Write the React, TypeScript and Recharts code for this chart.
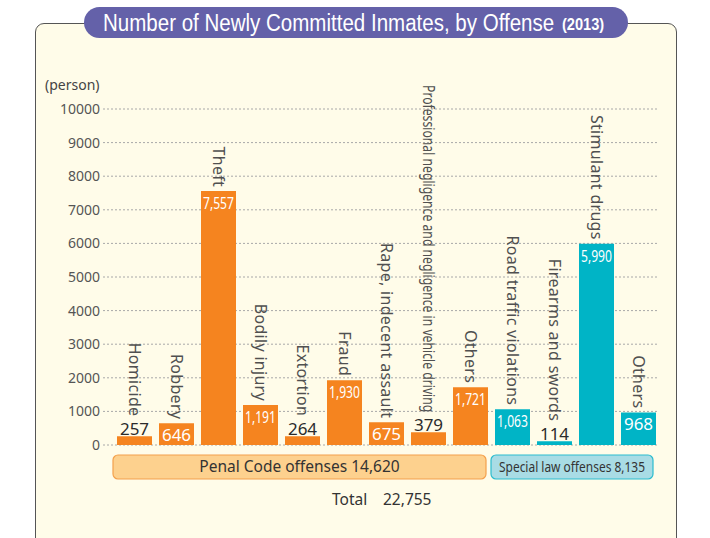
import { Bar, BarChart, CartesianGrid, Cell, LabelList, XAxis, YAxis } from "recharts";

const CATEGORIES = [
  "Homicide",
  "Robbery",
  "Theft",
  "Bodily injury",
  "Extortion",
  "Fraud",
  "Rape, indecent assault",
  "Professional negligence and negligence in vehicle driving",
  "Others",
  "Road traffic violations",
  "Firearms and swords",
  "Stimulant drugs",
  "Others",
];
const VALUES = [257, 646, 7557, 1191, 264, 1930, 675, 379, 1721, 1063, 114, 5990, 968];
const GROUPS = [
  "penal", "penal", "penal", "penal", "penal", "penal", "penal", "penal", "penal",
  "special", "special", "special", "special",
];
const Y_TICKS = [0, 1000, 2000, 3000, 4000, 5000, 6000, 7000, 8000, 9000, 10000];

const TITLE = "Number of Newly Committed Inmates, by Offense";
const TITLE_YEAR = "(2013)";
const PENAL_LABEL = "Penal Code offenses 14,620";
const SPECIAL_LABEL = "Special law offenses 8,135";
const TOTAL_LABEL = "Total";
const TOTAL_VALUE = "22,755";

const COLORS: Record<string, string> = { penal: "#f5841f", special: "#00b4c6" };
const FONT = "'Noto Sans', 'Open Sans', sans-serif";
const TITLE_FONT = "'Liberation Sans', Arial, sans-serif";

const data = CATEGORIES.map((name, i) => ({
  id: i,
  name,
  value: VALUES[i],
  group: GROUPS[i],
}));

function BarLabels(props: any) {
  const vb = props.viewBox ?? props;
  const x = Number(vb.x ?? props.x);
  const y = Number(vb.y ?? props.y);
  const width = Number(vb.width ?? props.width);
  const index = props.index as number;
  const value = VALUES[index];
  const name = CATEGORIES[index];
  const cx = x + width / 2;
  const inside = value >= 500;
  const text = value.toLocaleString("en-US");
  const hasComma = text.includes(",");
  const valueY = inside ? y + 12 : y - 7;
  const nameEnd = inside ? y - 4 : y - 20;
  const longName = name.length > 40;

  return (
    <g>
      <text
        x={cx}
        y={valueY}
        dy="0.35em"
        textAnchor="middle"
        fill={inside ? "#ffffff" : "#2b2b2b"}
        fontFamily={FONT}
        fontSize={hasComma ? 16.5 : 17}
        textLength={hasComma ? 31 : undefined}
        lengthAdjust="spacingAndGlyphs"
      >
        {text}
      </text>
      <text
        x={cx}
        y={nameEnd}
        dy="0.35em"
        textAnchor="end"
        transform={`rotate(90 ${cx} ${nameEnd})`}
        fill="#505050"
        fontFamily={FONT}
        fontSize={16}
        letterSpacing={longName ? 0 : 0.3}
        textLength={longName ? nameEnd - 85 : undefined}
        lengthAdjust="spacingAndGlyphs"
      >
        {name}
      </text>
    </g>
  );
}

export default function App() {
  return (
    <div
      style={{
        position: "absolute",
        left: 0,
        top: 0,
        width: 710,
        height: 538,
        overflow: "hidden",
        background: "#ffffff",
        fontFamily: FONT,
      }}
    >
      <div
        style={{
          position: "absolute",
          left: 35,
          top: 23,
          width: 642,
          height: 560,
          boxSizing: "border-box",
          border: "1.5px solid #555",
          borderRadius: 9,
          background: "#fffce9",
        }}
      />
      <svg width={710} height={538} style={{ position: "absolute", left: 0, top: 0 }}>
        <rect x={84} y={7} width={544} height={31} rx={15.5} fill="#6461a9" />
        {/* title font is condensed in the original, squeeze it horizontally */}
        <g transform="translate(103 31) scale(0.874 1)">
          <text x={0} y={0} fill="#ffffff" fontFamily={TITLE_FONT} fontSize={23.5}>
            {TITLE}
          </text>
        </g>
        <g transform="translate(562 30) scale(0.86 1)">
          <text x={0} y={0} fill="#ffffff" fontFamily={TITLE_FONT} fontSize={17} fontWeight="bold">
            {TITLE_YEAR}
          </text>
        </g>
        <text x={45} y={85} dy="0.35em" fill="#444" fontFamily={FONT} fontSize={14}>
          (person)
        </text>

        <rect x={113} y={455} width={373} height={24} rx={5} fill="#fdd18e" stroke="#f4a04c" strokeWidth={1.2} />
        <text x={299.5} y={467} dy="0.35em" textAnchor="middle" fill="#333" fontFamily={FONT} fontSize={15.5}>
          {PENAL_LABEL}
        </text>
        <rect x={491} y={455} width={162} height={24} rx={5} fill="#a9dce5" stroke="#2cbccf" strokeWidth={1.2} />
        <text
          x={499}
          y={467}
          dy="0.35em"
          fill="#333"
          fontFamily={FONT}
          fontSize={15}
          textLength={146}
          lengthAdjust="spacingAndGlyphs"
        >
          {SPECIAL_LABEL}
        </text>
        <text x={332} y={500} dy="0.35em" fill="#333" fontFamily={FONT} fontSize={15.5}>
          {TOTAL_LABEL}
        </text>
        <text x={383} y={500} dy="0.35em" fill="#333" fontFamily={FONT} fontSize={15.5}>
          {TOTAL_VALUE}
        </text>
      </svg>

      <div style={{ position: "absolute", left: 0, top: 0 }}>
        <BarChart
          width={710}
          height={538}
          data={data}
          margin={{ top: 109, right: 51, bottom: 93, left: 43 }}
        >
          <CartesianGrid vertical={false} stroke="#a8a8a8" strokeDasharray="2 2" />
          <XAxis
            dataKey="id"
            type="category"
            tick={false}
            tickLine={false}
            height={0}
            padding={{ left: 10, right: 0 }}
            axisLine={{ stroke: "#a0a0a0", strokeWidth: 1.5 }}
          />
          <YAxis
            domain={[0, 10000]}
            ticks={Y_TICKS}
            interval={0}
            width={60}
            axisLine={false}
            tickLine={false}
            tickSize={0}
            tickMargin={3}
            tick={{ fill: "#555", fontSize: 14, fontFamily: FONT }}
          />
          <Bar dataKey="value" barSize={35} isAnimationActive={false}>
            {data.map((d) => (
              <Cell key={d.id} fill={COLORS[d.group]} />
            ))}
            <LabelList dataKey="value" content={BarLabels} />
          </Bar>
        </BarChart>
      </div>
    </div>
  );
}
